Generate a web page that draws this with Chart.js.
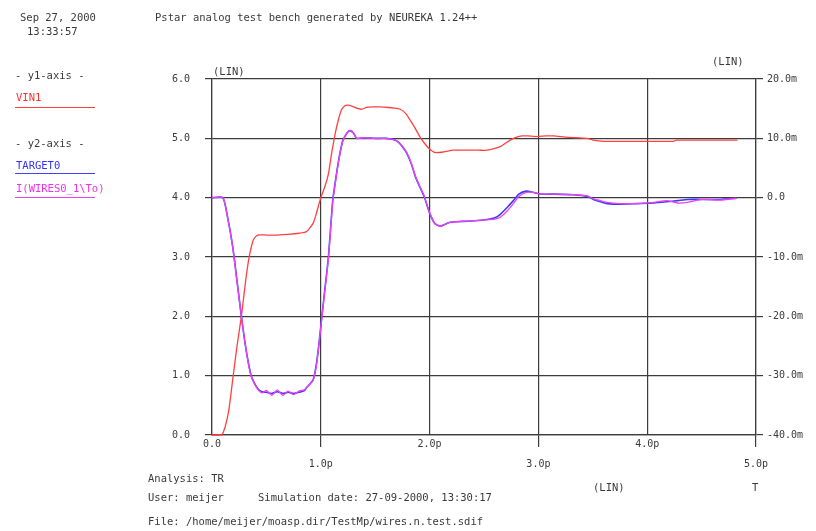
<!DOCTYPE html>
<html>
<head>
<meta charset="utf-8">
<script src="https://cdn.jsdelivr.net/npm/chart.js@4/dist/chart.umd.min.js"></script>
<style>
  html, body { margin: 0; padding: 0; background: #fff; }
  #wrap { position: relative; width: 816px; height: 531px; overflow: hidden; }
  #c { position: absolute; left: 0; top: 0; }
  .t { position: absolute; font-family: "DejaVu Sans Mono", "Liberation Mono", monospace; font-size: 10.5px; color: #3a3a3a; white-space: pre; line-height: 12px; transform: translateY(-6px); }
  .ln { position: absolute; height: 1px; }
</style>
</head>
<body>
<div id="wrap">
  <canvas id="c" width="816" height="531"></canvas>
  <div class="t" style="left:20px;top:17px">Sep 27, 2000</div>
  <div class="t" style="left:27px;top:31px">13:33:57</div>
  <div class="t" style="left:155px;top:17px">Pstar analog test bench generated by NEUREKA 1.24++</div>

  <div class="t" style="left:15px;top:75px">- y1-axis -</div>
  <div class="t" style="left:16px;top:97px;color:#ff3030">VIN1</div>
  <div class="ln" style="left:15px;top:107px;width:80px;background:#ff4040"></div>
  <div class="t" style="left:15px;top:143px">- y2-axis -</div>
  <div class="t" style="left:16px;top:165px;color:#3030ff">TARGET0</div>
  <div class="ln" style="left:15px;top:173px;width:80px;background:#4040ff"></div>
  <div class="t" style="left:16px;top:188px;color:#ee30ee">I(WIRES0_1\To)</div>
  <div class="ln" style="left:15px;top:197px;width:80px;background:#ee40ee"></div>

  <div class="t" style="left:213px;top:71px">(LIN)</div>
  <div class="t" style="left:712px;top:61px">(LIN)</div>

  <div class="t" style="left:148px;top:478px">Analysis: TR</div>
  <div class="t" style="left:148px;top:497px">User: meijer</div>
  <div class="t" style="left:258px;top:497px">Simulation date: 27-09-2000, 13:30:17</div>
  <div class="t" style="left:148px;top:521px">File: /home/meijer/moasp.dir/TestMp/wires.n.test.sdif</div>
  <div class="t" style="left:593px;top:487px">(LIN)</div>
  <div class="t" style="left:752px;top:487px">T</div>
</div>
<script>
// ---- data (time in p) ----
const vinTime = [0, 0.09, 0.15, 0.19, 0.23, 0.27, 0.31, 0.34, 0.38, 0.42, 0.5, 0.6, 0.7, 0.8, 0.87, 0.93, 0.96, 1.0, 1.04, 1.07, 1.10, 1.13, 1.16, 1.19, 1.22, 1.25, 1.29, 1.33, 1.375, 1.42, 1.48, 1.55, 1.62, 1.67, 1.73, 1.78, 1.82, 1.87, 1.91, 1.96, 2.0, 2.05, 2.13, 2.22, 2.35, 2.45, 2.53, 2.6, 2.65, 2.7, 2.74, 2.8, 2.85, 2.9, 2.99, 3.07, 3.14, 3.25, 3.35, 3.45, 3.5, 3.6, 3.8, 4.0, 4.2, 4.24, 4.27, 4.5, 4.83];
const vin1 = [0, 0, 0.37, 0.93, 1.5, 2.0, 2.61, 2.98, 3.29, 3.37, 3.37, 3.37, 3.38, 3.40, 3.43, 3.57, 3.74, 4.0, 4.2, 4.4, 4.75, 5.06, 5.3, 5.48, 5.55, 5.56, 5.54, 5.51, 5.49, 5.52, 5.53, 5.53, 5.52, 5.51, 5.49, 5.42, 5.31, 5.16, 5.03, 4.9, 4.82, 4.76, 4.77, 4.80, 4.80, 4.80, 4.80, 4.83, 4.86, 4.92, 4.97, 5.02, 5.04, 5.04, 5.03, 5.04, 5.04, 5.02, 5.01, 5.0, 4.97, 4.95, 4.95, 4.95, 4.95, 4.95, 4.97, 4.97, 4.97];

const curTime = [0, 0.1, 0.14, 0.19, 0.23, 0.27, 0.30, 0.33, 0.36, 0.40, 0.43, 0.46, 0.5, 0.55, 0.6, 0.65, 0.7, 0.75, 0.8, 0.85, 0.87, 0.9, 0.93, 0.96, 0.98, 1.01, 1.04, 1.07, 1.11, 1.14, 1.17, 1.2, 1.22, 1.25, 1.27, 1.30, 1.33, 1.4, 1.5, 1.6, 1.64, 1.68, 1.71, 1.75, 1.79, 1.83, 1.87, 1.91, 1.95, 2.0, 2.05, 2.1, 2.18, 2.3, 2.48, 2.55, 2.6, 2.65, 2.71, 2.77, 2.82, 2.89, 2.95, 3.02, 3.15, 3.32, 3.45, 3.52, 3.57, 3.63, 3.75, 3.9, 4.06, 4.18, 4.28, 4.37, 4.5, 4.67, 4.82];
const target0 = [0, 0, -3, -8.2, -14, -20, -24, -27.4, -30, -31.6, -32.4, -32.7, -32.8, -33, -32.7, -33, -32.8, -33, -32.8, -32.5, -32, -31.4, -30.7, -28, -25.1, -20, -15, -10, -0.4, 3.5, 6.9, 9.5, 10.3, 11.1, 11.3, 10.9, 10, 10.1, 10, 10, 9.9, 9.7, 9.4, 8.6, 7.5, 5.8, 3.5, 1.8, 0.2, -2.6, -4.4, -4.8, -4.2, -4.0, -3.8, -3.6, -3.4, -2.8, -1.7, -0.5, 0.6, 1.1, 0.9, 0.6, 0.6, 0.5, 0.2, -0.4, -0.7, -1.0, -1.1, -1.0, -0.9, -0.7, -0.5, -0.3, -0.3, -0.3, -0.1];
const iWires = [0, 0, -3, -8.3, -14.2, -20, -24.1, -27.5, -30.1, -31.7, -32.5, -32.9, -32.5, -33.3, -32.4, -33.3, -32.6, -33.2, -32.6, -32.4, -32, -31.4, -30.8, -28.2, -25.2, -20.2, -15.2, -10.3, -0.7, 3.3, 6.8, 9.4, 10.3, 11.1, 11.3, 10.9, 10, 10.1, 10, 10, 9.9, 9.7, 9.4, 8.7, 7.6, 5.9, 3.6, 1.9, 0.3, -2.5, -4.4, -4.8, -4.2, -4.0, -3.8, -3.7, -3.6, -3.3, -2.3, -1.0, 0.2, 0.9, 0.9, 0.6, 0.6, 0.5, 0.3, -0.3, -0.5, -0.8, -1.0, -1.0, -0.8, -0.5, -0.9, -0.8, -0.3, -0.4, -0.1];

const xTicks = [0, 1, 2, 3, 4, 5];
const xTickLabels = ['0.0', '1.0p', '2.0p', '3.0p', '4.0p', '5.0p'];

function pts(xs, ys) { return xs.map((x, i) => ({ x: x, y: ys[i] })); }

const gridCol = '#3c3c3c';
const mono = { family: '"DejaVu Sans Mono", "Liberation Mono", monospace', size: 10 };

new Chart(document.getElementById('c'), {
  type: 'line',
  data: {
    datasets: [
      { label: 'VIN1', data: pts(vinTime, vin1), yAxisID: 'y', borderColor: '#ff4040', borderWidth: 1.3, pointRadius: 0, tension: 0.2, order: 3 },
      { label: 'TARGET0', data: pts(curTime, target0), yAxisID: 'y2', borderColor: '#3a3aff', borderWidth: 1.6, pointRadius: 0, tension: 0.2, order: 2 },
      { label: 'I(WIRES0_1\\To)', data: pts(curTime, iWires), yAxisID: 'y2', borderColor: '#f040f0', borderWidth: 1.3, pointRadius: 0, tension: 0.2, order: 1 }
    ]
  },
  options: {
    responsive: false,
    animation: false,
    devicePixelRatio: 1,
    clip: false,
    layout: { padding: { top: 79, left: 0, right: 0, bottom: 0 } },
    plugins: { legend: { display: false }, tooltip: { enabled: false } },
    scales: {
      x: {
        type: 'linear', min: 0, max: 5,
        afterFit: s => { s.height = 96; },
        afterBuildTicks: s => { s.ticks = xTicks.map(v => ({ value: v })); },
        grid: {
          color: gridCol, lineWidth: 1.2, tickLength: 12,
          tickColor: ctx => (ctx.index % 2 === 1 ? gridCol : 'rgba(0,0,0,0)')
        },
        border: { color: gridCol, width: 1.2 },
        ticks: {
          padding: -13, maxRotation: 0, autoSkip: false, color: '#3a3a3a',
          font: Object.assign({ lineHeight: 2 }, mono),
          callback: (v) => { const i = xTicks.indexOf(v); const l = xTickLabels[i]; return i % 2 === 0 ? [l, ''] : ['', l]; }
        }
      },
      y: {
        position: 'left', min: 0, max: 6,
        afterFit: s => { s.width = 212; },
        grid: { color: gridCol, lineWidth: 1.2, tickLength: 7 },
        border: { color: gridCol, width: 1.2 },
        ticks: { stepSize: 1, padding: 15, color: '#3a3a3a', font: mono, callback: v => v.toFixed(1) }
      },
      y2: {
        position: 'right', min: -40, max: 20,
        afterFit: s => { s.width = 60; },
        grid: { drawOnChartArea: false, color: gridCol, lineWidth: 1.2, tickLength: 7 },
        border: { color: gridCol, width: 1.2 },
        ticks: { stepSize: 10, padding: 4, color: '#3a3a3a', font: mono, callback: v => (v === 0 ? '0.0' : v.toFixed(1) + 'm') }
      }
    }
  }
});
</script>
</body>
</html>
